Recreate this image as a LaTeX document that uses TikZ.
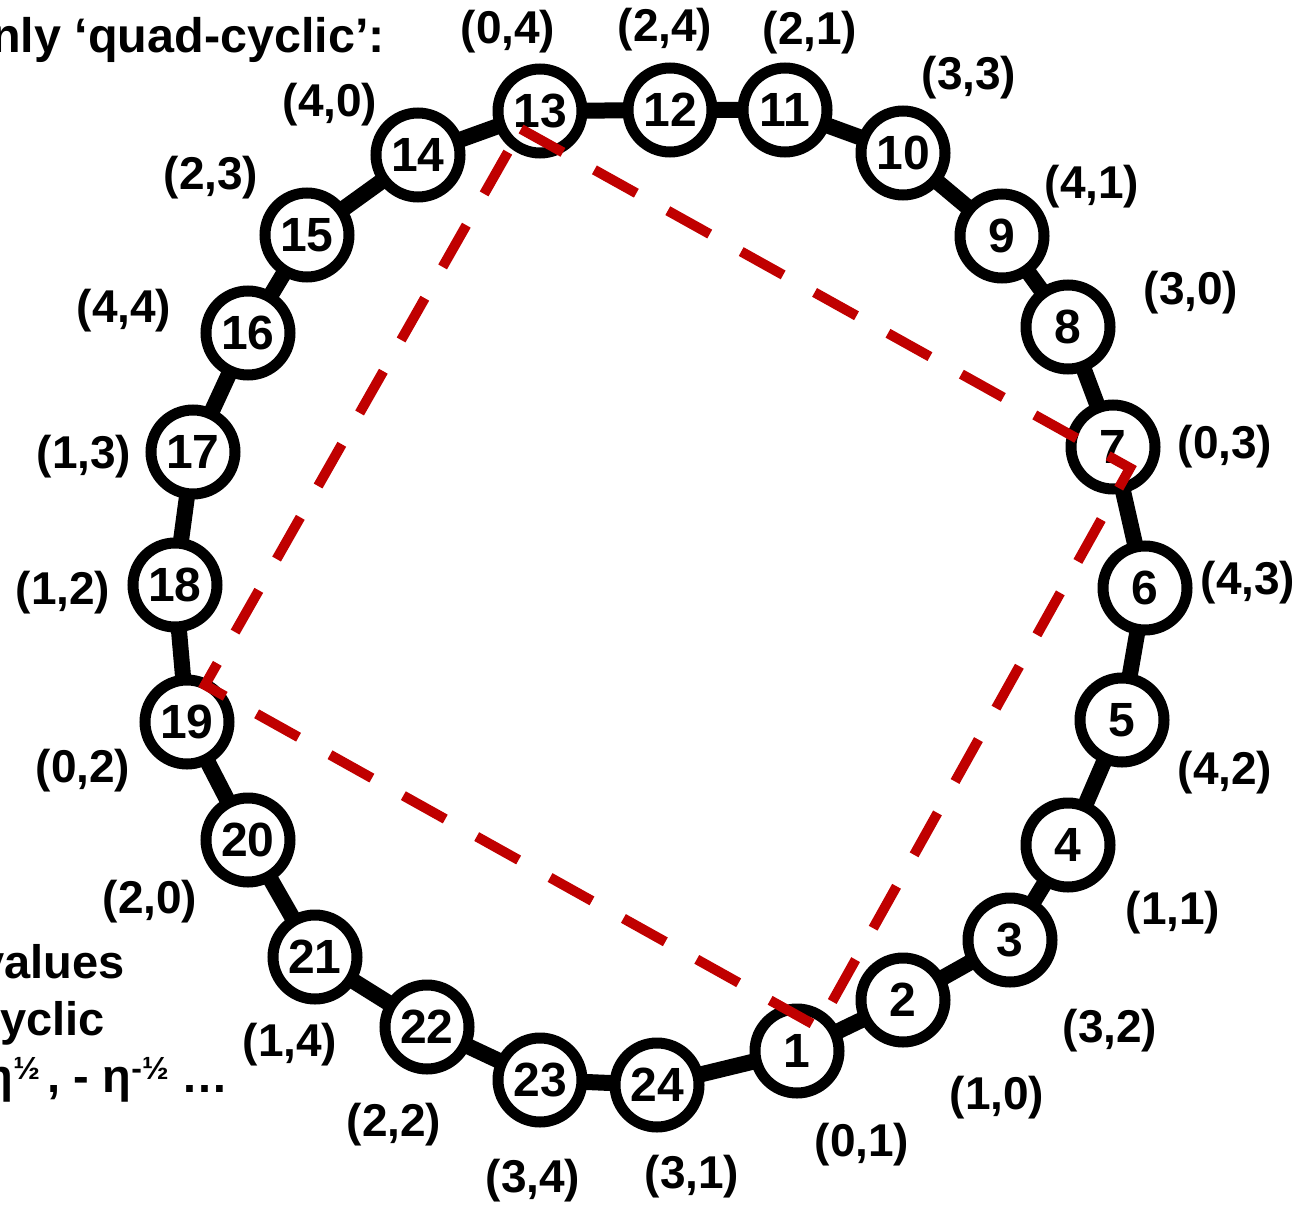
\documentclass[tikz,border=0pt]{standalone}
\usepackage{fontspec}
\setmainfont{Liberation Sans}
\pgfdeclarelayer{background}
\pgfsetlayers{background,main}
\definecolor{sqred}{RGB}{192,0,0}
\newcommand{\halfsup}[1]{\raisebox{13pt}{\fontsize{32}{32}\selectfont #1½}}
\begin{document}
\begin{tikzpicture}[x=1pt,y=-1pt,
  nd/.style={circle,draw=black,line width=11pt,fill=white,minimum size=84pt,inner sep=0pt,
    font=\fontsize{48}{48}\selectfont\bfseries},
  lbl/.style={font=\fontsize{46}{46}\selectfont\bfseries,inner sep=0pt},
  txt/.style={font=\fontsize{47}{47}\selectfont\bfseries,inner sep=0pt,anchor=base east},
  ring/.style={draw=black,line width=16pt},
  sq/.style={draw=sqred,line width=10pt,dash pattern=on 48pt off 36pt}]
\useasboundingbox (0,0) rectangle (1303,1206);

% nodes
\foreach \n/\x/\y in {1/797/1051,2/903/1000,3/1010/940,4/1068/845,5/1122/720,6/1145/588,
  7/1113/447,8/1068/327,9/1002/236,10/903/153,11/785/110,12/670/110,13/540/111,
  14/418/155,15/307/235,16/248/333,17/193/452,18/175/585,19/187/722,20/248/840,
  21/315/957,22/427/1027,23/540/1080,24/657/1085}
  \node[nd] (n\n) at (\x,\y) {\n};

% ring
\begin{pgfonlayer}{background}
\draw[ring] (n1.center) -- (n2.center) -- (n3.center) -- (n4.center) -- (n5.center)
  -- (n6.center) -- (n7.center) -- (n8.center) -- (n9.center) -- (n10.center)
  -- (n11.center) -- (n12.center) -- (n13.center) -- (n14.center) -- (n15.center)
  -- (n16.center) -- (n17.center) -- (n18.center) -- (n19.center) -- (n20.center)
  -- (n21.center) -- (n22.center) -- (n23.center) -- (n24.center) -- cycle;
\end{pgfonlayer}

% red dashed rectangle
\coordinate (qa) at (521,129);
\coordinate (qb) at (1130,468);
\coordinate (qc) at (818,1027);
\coordinate (qd) at (205,685);
\draw[sq] (qa) -- (qb) -- (qc) -- (qd) -- cycle;

% labels
\foreach \n/\x/\y/\t in {1/862/1145/{(0,1)},2/997/1098/{(1,0)},3/1110/1031/{(3,2)},
  4/1173/913/{(1,1)},5/1225/773/{(4,2)},6/1248/583/{(4,3)},7/1225/447/{(0,3)},
  8/1191/293/{(3,0)},9/1092/187/{(4,1)},10/969/78/{(3,3)},11/810/33/{(2,1)},
  12/665/30/{(2,4)},13/508/32/{(0,4)},14/330/105/{(4,0)},15/211/178/{(2,3)},
  16/124/311/{(4,4)},17/84/457/{(1,3)},18/63/593/{(1,2)},19/83/771/{(0,2)},
  20/150/902/{(2,0)},21/290/1045/{(1,4)},22/394/1125/{(2,2)},23/533/1181/{(3,4)},
  24/692/1177/{(3,1)}}
  \node[lbl] (l\n) at (\x,\y) {\t};

% clipped side text
\node[txt,font=\fontsize{48.5}{48.5}\selectfont\bfseries] (t1) at (385,53) {nly `quad-cyclic':};
\node[txt] (t2) at (125,978) {values};
\node[txt] (t3) at (105,1035) {yclic};
\node[txt] (t4) at (229,1092) {η\halfsup{}\,, - η\halfsup{-}\ …};
\end{tikzpicture}
\end{document}
